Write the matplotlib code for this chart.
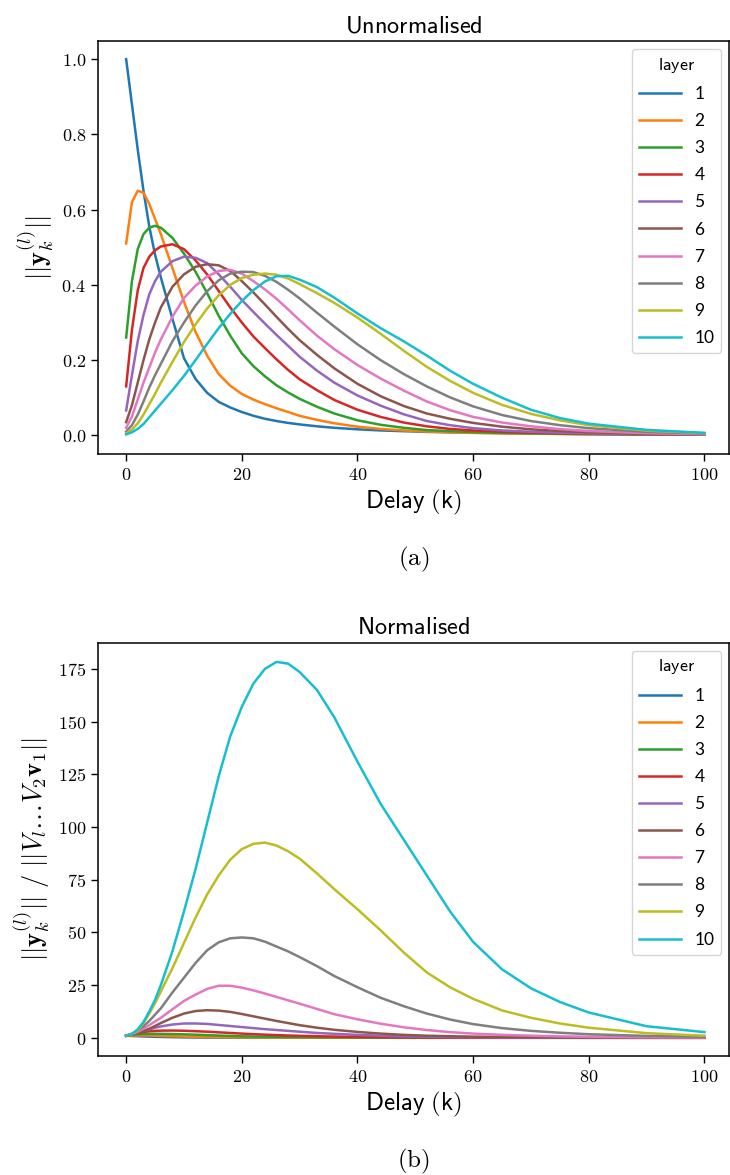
import matplotlib
matplotlib.use("Agg")
import matplotlib.pyplot as plt
from matplotlib.ticker import FuncFormatter, MultipleLocator

plt.rcParams["mathtext.fontset"] = "cm"

delay = [0, 1, 2, 3, 4, 5, 6, 8, 10, 12, 14, 16, 18, 20, 22, 24, 26, 28, 30,
         33, 36, 40, 44, 48, 52, 56, 60, 65, 70, 75, 80, 90, 100]

# ---- (a) unnormalised ||y_k^(l)|| ----
u1 = [1.0, 0.88, 0.76, 0.65, 0.555, 0.48, 0.42, 0.31, 0.205, 0.15, 0.113, 0.089, 0.074, 0.062, 0.052, 0.044, 0.038,
      0.033, 0.029, 0.024, 0.02, 0.016, 0.013, 0.011, 0.0092, 0.008, 0.007, 0.006, 0.005, 0.0042, 0.0035, 0.0026, 0.002]
u2 = [0.51, 0.62, 0.65, 0.645, 0.615, 0.575, 0.535, 0.445, 0.355, 0.275, 0.212, 0.163, 0.132, 0.11, 0.095, 0.083, 0.072,
      0.062, 0.052, 0.041, 0.032, 0.023, 0.017, 0.013, 0.01, 0.008, 0.0065, 0.0052, 0.0043, 0.0035, 0.0028, 0.002, 0.0015]
u3 = [0.26, 0.41, 0.495, 0.535, 0.552, 0.557, 0.552, 0.525, 0.483, 0.435, 0.378, 0.318, 0.265, 0.218, 0.184, 0.157, 0.133,
      0.114, 0.097, 0.076, 0.058, 0.04, 0.028, 0.02, 0.014, 0.011, 0.0085, 0.0065, 0.0052, 0.0042, 0.0034, 0.0023, 0.0016]
u4 = [0.13, 0.28, 0.385, 0.445, 0.475, 0.492, 0.502, 0.508, 0.495, 0.465, 0.428, 0.384, 0.34, 0.3, 0.263, 0.232, 0.202,
      0.174, 0.149, 0.12, 0.094, 0.068, 0.049, 0.034, 0.024, 0.017, 0.013, 0.0095, 0.0072, 0.0055, 0.0043, 0.003, 0.002]
u5 = [0.066, 0.16, 0.25, 0.32, 0.375, 0.41, 0.435, 0.463, 0.475, 0.472, 0.458, 0.428, 0.395, 0.36, 0.328, 0.297, 0.267,
      0.238, 0.209, 0.172, 0.14, 0.106, 0.079, 0.056, 0.038, 0.027, 0.019, 0.013, 0.0095, 0.007, 0.0052, 0.0032, 0.002]
u6 = [0.035, 0.08, 0.14, 0.2, 0.255, 0.3, 0.34, 0.395, 0.428, 0.448, 0.455, 0.452, 0.437, 0.41, 0.38, 0.348, 0.315,
      0.283, 0.253, 0.214, 0.178, 0.137, 0.104, 0.078, 0.058, 0.044, 0.033, 0.023, 0.016, 0.0115, 0.0083, 0.0042, 0.0025]
u7 = [0.02, 0.05, 0.095, 0.14, 0.18, 0.22, 0.255, 0.315, 0.365, 0.398, 0.422, 0.437, 0.44, 0.43, 0.41, 0.388, 0.363,
      0.335, 0.306, 0.265, 0.229, 0.187, 0.151, 0.119, 0.09, 0.067, 0.049, 0.034, 0.024, 0.0165, 0.0115, 0.0057, 0.003]
u8 = [0.01, 0.027, 0.055, 0.09, 0.127, 0.16, 0.19, 0.25, 0.3, 0.345, 0.383, 0.412, 0.43, 0.435, 0.434, 0.424, 0.408,
      0.387, 0.364, 0.326, 0.289, 0.242, 0.2, 0.163, 0.13, 0.101, 0.077, 0.054, 0.038, 0.027, 0.019, 0.0093, 0.0046]
u9 = [0.005, 0.015, 0.032, 0.055, 0.083, 0.11, 0.14, 0.195, 0.248, 0.295, 0.337, 0.372, 0.4, 0.418, 0.427, 0.43, 0.427,
      0.417, 0.402, 0.378, 0.352, 0.313, 0.27, 0.225, 0.182, 0.145, 0.113, 0.081, 0.057, 0.04, 0.027, 0.0125, 0.0056]
u10 = [0.0025, 0.008, 0.017, 0.03, 0.048, 0.066, 0.084, 0.12, 0.158, 0.2, 0.243, 0.285, 0.323, 0.357, 0.386, 0.409, 0.423,
       0.424, 0.414, 0.394, 0.366, 0.324, 0.285, 0.25, 0.212, 0.172, 0.137, 0.1, 0.068, 0.046, 0.031, 0.0145, 0.0066]

# ---- (b) normalised ||y_k^(l)|| / ||V_l ... V_2 v_1|| ----
n1 = u1
n2 = [0.87, 1.05, 1.1, 1.1, 1.05, 0.98, 0.91, 0.76, 0.6, 0.47, 0.36, 0.27, 0.21, 0.18, 0.15, 0.14, 0.12,
      0.1, 0.085, 0.068, 0.053, 0.037, 0.027, 0.02, 0.015, 0.012, 0.01, 0.008, 0.007, 0.006, 0.005, 0.003, 0.0025]
n3 = [0.9, 1.4, 1.7, 1.82, 1.88, 1.9, 1.88, 1.8, 1.65, 1.48, 1.28, 1.07, 0.89, 0.72, 0.61, 0.53, 0.44,
      0.38, 0.32, 0.25, 0.19, 0.13, 0.09, 0.065, 0.045, 0.034, 0.027, 0.02, 0.017, 0.014, 0.01, 0.007, 0.005]
n4 = [1.0, 1.7, 2.3, 2.8, 3.1, 3.3, 3.4, 3.45, 3.35, 3.15, 2.9, 2.6, 2.3, 2.0, 1.75, 1.5, 1.3,
      1.1, 0.95, 0.75, 0.6, 0.45, 0.32, 0.22, 0.16, 0.11, 0.08, 0.06, 0.04, 0.03, 0.02, 0.015, 0.01]
n5 = [1.0, 1.6, 2.4, 3.2, 4.0, 4.8, 5.4, 6.3, 6.8, 6.8, 6.6, 6.1, 5.6, 5.1, 4.6, 4.1, 3.7,
      3.3, 2.9, 2.3, 1.9, 1.4, 1.0, 0.7, 0.5, 0.35, 0.25, 0.17, 0.12, 0.08, 0.06, 0.03, 0.02]
n6 = [1.0, 1.5, 2.2, 3.2, 4.3, 5.6, 7.0, 9.5, 11.5, 12.7, 13.1, 12.9, 12.3, 11.3, 10.2, 9.1, 8.0,
      7.0, 6.0, 4.8, 3.8, 2.8, 2.0, 1.4, 1.0, 0.75, 0.55, 0.4, 0.28, 0.2, 0.14, 0.07, 0.04]
n7 = [1.0, 1.8, 2.9, 4.3, 6.0, 7.8, 9.5, 13.5, 17.5, 20.5, 23.2, 24.7, 24.7, 23.8, 22.5, 21.0, 19.4,
      17.8, 16.2, 13.7, 11.2, 8.8, 6.7, 5.0, 3.7, 2.7, 2.0, 1.4, 1.0, 0.7, 0.5, 0.25, 0.15]
n8 = [1.0, 2.0, 3.5, 5.5, 8.0, 11.0, 14.0, 21.5, 28.5, 35.5, 41.5, 45.3, 47.2, 47.6, 47.2, 45.6, 43.3,
      41.0, 38.3, 34.0, 29.3, 24.0, 19.0, 15.0, 11.5, 8.7, 6.5, 4.6, 3.3, 2.4, 1.7, 0.9, 0.5]
n9 = [1.0, 1.8, 3.5, 7.0, 11.5, 16.5, 22.0, 33.0, 45.0, 57.0, 68.0, 77.0, 84.5, 89.5, 92.0, 92.6, 91.2,
      88.5, 85.0, 78.0, 70.5, 61.0, 51.0, 40.5, 31.0, 24.0, 18.5, 13.0, 9.5, 6.8, 4.8, 2.2, 1.0]
n10 = [1.0, 1.8, 4.0, 7.5, 12.5, 18.0, 25.0, 41.0, 60.0, 80.0, 102.0, 124.0, 143.0, 157.0, 168.0, 175.0, 178.3,
       177.5, 173.5, 165.0, 152.0, 131.0, 111.0, 94.0, 77.0, 60.0, 45.5, 32.5, 23.5, 17.0, 12.0, 5.5, 2.7]

layers = [1, 2, 3, 4, 5, 6, 7, 8, 9, 10]
unnorm = [u1, u2, u3, u4, u5, u6, u7, u8, u9, u10]
norm = [n1, n2, n3, n4, n5, n6, n7, n8, n9, n10]

fig = plt.figure(figsize=(7.3, 11.75), dpi=100)
ax_a = fig.add_axes([0.134, 0.6135, 0.865, 0.3515])
ax_b = fig.add_axes([0.134, 0.1015, 0.865, 0.3515])

panels = [
    (ax_a, unnorm, r"$\mathsf{Unnormalised}$", r"$||\mathbf{y}_k^{(l)}||$", "(a)", (-0.05, 1.048), 0.2, "%.1f"),
    (ax_b, norm, r"$\mathsf{Normalised}$",
     r"$||\mathbf{y}_k^{(l)}||\ /\ ||V_l\ldots V_2\mathbf{v}_1||$", "(b)", (-8.5, 187.4), 25, "%d"),
]

for ax, series, title, ylab, cap, ylim, step, fmt in panels:
    for lay, vals in zip(layers, series):
        ax.plot(delay, vals, lw=1.8, label=str(lay))
    ax.set_xlim(-4.9, 104.3)
    ax.set_ylim(*ylim)
    ax.xaxis.set_major_locator(MultipleLocator(20))
    ax.yaxis.set_major_locator(MultipleLocator(step))
    ax.xaxis.set_major_formatter(FuncFormatter(lambda v, p: r"$%d$" % v))
    ax.yaxis.set_major_formatter(FuncFormatter(lambda v, p, f=fmt: "$" + (f % v) + "$"))
    ax.tick_params(labelsize=13, length=5, width=1)
    for s in ax.spines.values():
        s.set_linewidth(1.1)
    ax.set_title(title, fontsize=17.5, pad=6)
    ax.set_xlabel(r"$\mathsf{Delay\ (k)}$", fontsize=18, labelpad=3)
    ax.set_ylabel(ylab, fontsize=19, labelpad=4)
    leg = ax.legend(title=r"$\mathsf{layer}$", loc="upper right", prop={"family": "Lato", "size": 12.5},
                    title_fontsize=13, handlelength=2.4, labelspacing=0.64, borderaxespad=0.45)
    ax.text(0.5, -0.255, r"$\mathrm{%s}$" % cap, transform=ax.transAxes, ha="center", va="center", fontsize=18)

fig.savefig("out.png", dpi=100)
